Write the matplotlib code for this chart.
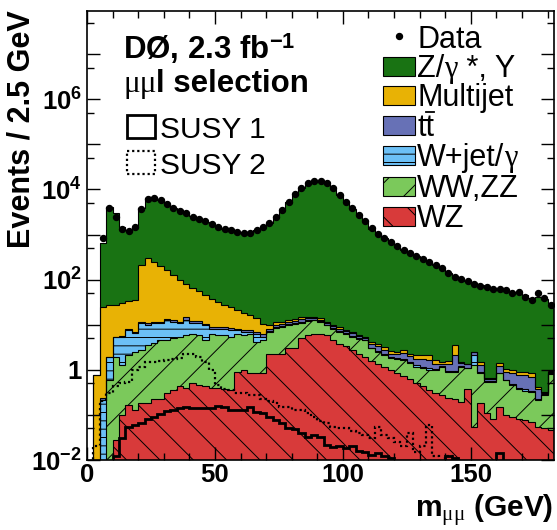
import numpy as np
import matplotlib
matplotlib.use("Agg")
import matplotlib.pyplot as plt
from matplotlib.patches import Rectangle
from matplotlib.ticker import FixedLocator, FuncFormatter, NullFormatter

plt.rcParams['font.family'] = ['Liberation Sans', 'DejaVu Sans']
plt.rcParams['mathtext.fontset'] = 'custom'
plt.rcParams['mathtext.rm'] = 'Liberation Serif'
plt.rcParams['mathtext.it'] = 'Liberation Serif:italic'
plt.rcParams['mathtext.bf'] = 'Liberation Sans:bold'
plt.rcParams['mathtext.sf'] = 'Liberation Sans'
plt.rcParams['hatch.linewidth'] = 0.7

# ---------------- data (73 bins of 2.5 GeV, 0 - 182.5 GeV) ----------------
bin_edges = np.arange(0, 182.5 + 1e-6, 2.5)

wz = [0, 0, 0, 0, 0.028, 0.10, 0.165, 0.13, 0.18, 0.18,
      0.23, 0.23, 0.30, 0.35, 0.43, 0.40, 0.50, 0.47, 0.43, 0.39,
      0.39, 0.38, 0.35, 0.91, 1.0, 0.85, 0.83, 0.83, 2.3, 2.3,
      2.3, 3.0, 3.0, 5.0, 6.0, 6.3, 6.3, 5.8, 4.6, 3.8,
      3.3, 2.7, 2.3, 1.9, 1.6, 1.35, 1.15, 1.0, 0.83, 0.72,
      0.62, 0.52, 0.44, 0.35, 0.30, 0.28, 0.24, 0.22, 0.19, 0.38,
      0.054, 0.18, 0.11, 0.083, 0.15, 0.098, 0.091, 0.083, 0.076, 0.071,
      0.054, 0.05, 0.046]

wwzz = [0, 0, 0.005, 0.59, 1.93, 1.2, 1.93, 2.37, 2.57, 3.3,
        3.7, 4.4, 4.3, 4.65, 5.0, 5.4, 5.8, 5.5, 4.1, 5.9,
        5.6, 5.5, 5.0, 5.4, 5.0, 5.4, 3.4, 3.8, 4.7, 6.0,
        6.6, 7.0, 7.5, 5.7, 6.0, 6.3, 5.2, 4.0, 3.5, 3.1,
        3.0, 2.7, 2.6, 2.7, 1.4, 1.15, 0.95, 0.8, 0.87, 0.9,
        0.78, 0.65, 0.63, 0.63, 0.68, 0.89, 0.66, 0.68, 0.98, 0.69,
        1.2, 0.65, 0.43, 0.46, 0.68, 0.49, 0.37, 0.30, 0.27, 0.25,
        0.16, 0.23, 0.78]

wjet = [0, 0, 0.21, 1.36, 3.3, 4.1, 5.6, 4.0, 7.95, 6.3,
        6.8, 6.1, 8.0, 6.7, 5.3, 7.0, 4.7, 5.0, 5.3, 1.8,
        2.1, 2.2, 2.2, 1.3, 0.9, 0.6, 2.1, 0.8, 0.4, 0.5,
        0.4, 0.4, 0.5, 0.6, 0.5, 0.3, 0.3, 0.3, 0.2, 0.2,
        0.2, 0.2, 0.1, 0.1, 0.1, 0.1, 0.1, 0.1, 0.1, 0.1,
        0.1, 0.1, 0.1, 0.1, 0.05, 0.05, 0.05, 0.05, 0.05, 0.05,
        0.9, 0.05, 0.02, 0.02, 0.02, 0.02, 0.02, 0.02, 0.02, 0.02,
        0.01, 0.01, 0.01]

ttbar = [0, 0, 0.02, 0.02, 0.1, 0.1, 0.4, 0.3, 1.0, 0.9,
         0.8, 1.0, 1.1, 0.8, 0.5, 1.9, 1.2, 1.3, 0.8, 0.6,
         0.7, 0.7, 0.8, 0.6, 0.6, 0.7, 0.5, 0.7, 0.5, 1.0,
         1.1, 1.1, 1.2, 1.8, 1.5, 1.2, 1.2, 0.8, 0.9, 1.1,
         0.7, 0.8, 0.6, 0.5, 0.7, 0.8, 0.6, 0.4, 0.4, 0.6,
         0.5, 0.5, 0.6, 0.6, 0.35, 0.15, 0.4, 1.2, 0.2, 0.2,
         0.3, 0.4, 0.05, 0.05, 0.35, 0.3, 0.35, 0.35, 0.4, 0.35,
         0.15, 0.02, 0.05]

multijet = [0, 0.75, 24.8, 25, 22.5, 24.5, 25, 28, 197, 298,
            233, 188, 148, 113, 89, 67, 54, 44, 34, 28,
            23, 19, 16, 12.8, 10.3, 8.6, 7.0, 4.0, 2.0, 1.5,
            1.2, 1.0, 1.0, 1.7, 0.8, 0.7, 0.8, 0.6, 0.6, 0.7,
            0.4, 0.5, 0.3, 0.2, 0.4, 0.4, 0.4, 0.3, 0.3, 0.4,
            0.3, 0.33, 0.33, 0.4, 0.25, 0.15, 0.25, 1.35, 0.1, 0.05,
            0.05, 0.2, 0.05, 0.05, 0.2, 0.16, 0.18, 0.15, 0.15, 0.15,
            0.05, 0.01, 0.05]

zgamma = [0, 0, 620, 4040, 2900, 1450, 1230, 1450, 3600, 6000,
          6400, 5700, 4700, 3800, 3350, 2900, 2450, 2150, 1900, 1650,
          1480, 1330, 1220, 1130, 1050, 1070, 1230, 1480, 1800, 2450,
          3450, 5300, 7700, 10800, 13800, 15400, 15400, 13500, 10400, 7400,
          5300, 3750, 2700, 1950, 1350, 1030, 820, 670, 540, 440,
          375, 325, 280, 240, 205, 175, 140, 112, 103, 92,
          80, 75, 68, 64, 61, 59, 51, 53, 45, 38,
          40, 36, 30]

data = [np.nan, np.nan, 830, 3900, 2500, 1300, 1200, 1500, 3700, 6200,
        6600, 5900, 4800, 3800, 3400, 2950, 2500, 2200, 1950, 1700,
        1500, 1350, 1260, 1150, 1070, 1100, 1260, 1500, 1830, 2500,
        3500, 5400, 7800, 11000, 14000, 15600, 15600, 13700, 10600, 7500,
        5400, 3800, 2750, 1950, 1380, 1050, 830, 680, 550, 450,
        380, 330, 280, 245, 210, 178, 141, 115, 105, 91,
        81, 74, 68, 63, 62, 59, 50, 54, 42, 35,
        50, 39, 27]

susy1 = [0, 0, 0, 0, 0.012, 0.03, 0.055, 0.06, 0.065, 0.083,
         0.09, 0.107, 0.12, 0.13, 0.14, 0.15, 0.14, 0.14, 0.14, 0.14,
         0.16, 0.15, 0.13, 0.13, 0.13, 0.15, 0.117, 0.11, 0.091, 0.077,
         0.065, 0.052, 0.048, 0.039, 0.033, 0.036, 0.033, 0.021, 0.019, 0.02,
         0.018, 0.02, 0.016, 0.015, 0.013, 0.014, 0.012, 0.011, 0, 0,
         0, 0, 0, 0, 0, 0, 0.012, 0.011, 0, 0,
         0, 0, 0, 0, 0.014, 0, 0, 0, 0, 0,
         0, 0, 0]

susy2 = [0, 0.02, 0.2, 0.3, 0.43, 0.5, 0.55, 1.0, 1.15, 1.5,
         1.5, 1.6, 1.65, 1.7, 1.8, 2.3, 2.2, 1.9, 1.5, 1.0,
         0.46, 0.38, 0.35, 0.31, 0.30, 0.28, 0.28, 0.23, 0.20, 0.18,
         0.15, 0.15, 0.13, 0.13, 0.11, 0.09, 0.075, 0.065, 0.055, 0.05,
         0.05, 0.045, 0.04, 0.035, 0.03, 0.054, 0.035, 0.03, 0.025, 0.02,
         0.04, 0.015, 0.02, 0.06, 0.012, 0, 0.012, 0, 0, 0,
         0, 0, 0, 0, 0, 0, 0, 0, 0, 0,
         0, 0, 0]

# legend labels: list of (text, font family, weight) pieces
SANS = "Liberation Sans"
SERIF = "Liberation Serif"
components = [
    ([("WZ", SANS, "normal")], wz, "#d83a3a", "\\"),
    ([("WW,ZZ", SANS, "normal")], wwzz, "#7bc95b", "/"),
    ([("W+jet/", SANS, "normal"), ("\u03b3", SERIF, "normal")], wjet, "#6cc0f6", "--"),
    ([("tt", SANS, "normal")], ttbar, "#6771b6", None),
    ([("Multijet", SANS, "normal")], multijet, "#e8b205", None),
    ([("Z/", SANS, "normal"), ("\u03b3", SERIF, "normal"),
      (" *, \u03a5", SANS, "normal")], zgamma, "#197313", None),
]

# ---------------- figure ----------------
W, H = 557, 530
fig = plt.figure(figsize=(W / 100, H / 100), dpi=100)
ax_l, ax_r, ax_t, ax_b = 87, 554, 10.7, 460
ax = fig.add_axes([ax_l / W, 1 - ax_b / H, (ax_r - ax_l) / W, (ax_b - ax_t) / H])
ax.set_yscale("log")

floor = 1e-5
bottom = np.full(len(wz), floor)
tops = []
for label, vals, col, hatch in components:
    top = bottom + np.asarray(vals, dtype=float)
    ax.stairs(top, bin_edges, baseline=bottom, fill=True, facecolor=col,
              edgecolor="black", hatch=hatch, linewidth=0, zorder=1)
    tops.append(top)
    bottom = top
for top in tops:
    ax.stairs(top, bin_edges, baseline=None, color="black", lw=0.8, zorder=2)

s1 = np.where(np.asarray(susy1) > 0, susy1, floor)
s2 = np.where(np.asarray(susy2) > 0, susy2, floor)
ax.stairs(s1, bin_edges, baseline=None, color="black", lw=2.0, zorder=3)
ax.stairs(s2, bin_edges, baseline=None, color="black", lw=1.6,
          linestyle=(0, (1, 1.3)), zorder=3)

centers = 0.5 * (bin_edges[:-1] + bin_edges[1:])
ax.plot(centers, data, "o", color="black", ms=4.3, zorder=5)

ax.set_xlim(0, 182.5)
ax.set_ylim(1e-2, 9.2e7)

ax.xaxis.set_major_locator(FixedLocator([0, 50, 100, 150]))
ax.xaxis.set_minor_locator(FixedLocator(np.arange(0, 181, 10)))
ax.yaxis.set_major_locator(FixedLocator([10.0 ** k for k in range(-2, 8)]))
ax.yaxis.set_minor_locator(FixedLocator([5 * 10.0 ** k for k in range(-3, 8)]))
ax.yaxis.set_minor_formatter(NullFormatter())


def ylab(v, pos):
    k = int(round(np.log10(v)))
    if k % 2:
        return ""
    if k == 0:
        return "$\\mathbf{1}$"
    return "$\\mathbf{10^{%d}}$" % k


ax.yaxis.set_major_formatter(FuncFormatter(ylab))
ax.tick_params(which="both", direction="in", top=True, right=True, width=1.0)
ax.tick_params(which="major", length=9.5)
ax.tick_params(which="minor", length=5)
ax.tick_params(axis="y", which="major", labelsize=18.5, pad=3.5)
ax.tick_params(axis="x", which="major", labelsize=18.5, pad=2.5)
for lab in ax.get_xticklabels():
    lab.set_fontweight("bold")
for sp in ax.spines.values():
    sp.set_linewidth(1.2)

# axis titles
fig.text(22 / W, 1 - 10 / H, "Events / 2.5 GeV", rotation=90, ha="center",
         va="top", fontsize=22, fontweight="bold")
fig.text(553 / W, 1 - 518 / H, "$\\mathbf{m}_{\\mathrm{\\mu\\mu}}$ (GeV)",
         ha="right", va="baseline", fontsize=21.5, fontweight="bold")

# overlay in pixel coordinates for legends
lx = fig.add_axes([0, 0, 1, 1], zorder=10)
lx.set_xlim(0, W)
lx.set_ylim(H, 0)
lx.axis("off")
lx.patch.set_alpha(0)
renderer = fig.canvas.get_renderer()


def chain(x, y, pieces, fs):
    """Draw text pieces one after the other on a common baseline."""
    for txt, fam, weight in pieces:
        t = lx.text(x, y, txt, fontsize=fs, family=fam, fontweight=weight,
                    va="baseline", ha="left")
        bb = t.get_window_extent(renderer)
        x += bb.width
    return x


lx.text(123, 59.5, "DØ, 2.3 fb$^{\\mathbf{-1}}$", fontsize=22.5,
        fontweight="bold", va="baseline", ha="left")
chain(123, 92, [("\u03bc\u03bc", SERIF, "normal"), ("l selection", SANS, "bold")], 22.5)
lx.add_patch(Rectangle((127, 115), 28, 23, fill=False, lw=2.0, ec="black"))
lx.text(160, 138, "SUSY 1", fontsize=21.5, va="baseline", ha="left")
lx.add_patch(Rectangle((127, 151), 28, 23, fill=False, lw=1.6, ec="black",
                       linestyle=(0, (1, 1.3))))
lx.text(160, 174, "SUSY 2", fontsize=21.5, va="baseline", ha="left")

# right legend
leg_fs = 22
em = leg_fs / 72 * 100
lx.plot([399], [36], "o", color="black", ms=4.3)
lx.text(417, 48.5, "Data", fontsize=leg_fs, va="baseline", ha="left")
row_centers = [66, 95, 125, 155, 186, 216]
for (pieces, vals, col, hatch), yc in zip(components[::-1], row_centers):
    lx.add_patch(Rectangle((383, yc - 9.5), 32, 19, facecolor=col,
                           edgecolor="black", hatch=hatch, lw=0.8))
    base = yc + 11
    chain(417, base, pieces, leg_fs)
    if pieces[0][0] == "tt":
        # bar over the second t (t-tbar)
        x0 = 417 + 0.278 * em
        lx.plot([x0 + 0.02 * em, x0 + 0.27 * em],
                [base - 0.80 * em, base - 0.80 * em], color="black", lw=1.3)

fig.savefig("out.png", dpi=100)
